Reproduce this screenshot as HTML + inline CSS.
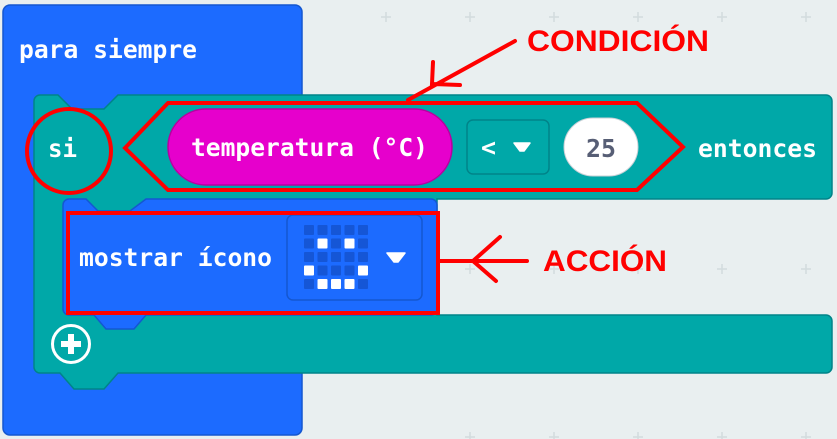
<!DOCTYPE html>
<html><head><meta charset="utf-8"><style>
html,body{margin:0;padding:0;background:#e9eff0;}
svg{display:block;}
.t{font-family:"DejaVu Sans Mono","Liberation Mono",monospace;font-weight:bold;font-size:25px;fill:#fff;}
.r{font-family:"Liberation Sans",sans-serif;font-weight:bold;font-size:30px;fill:#ff0000;}
</style></head><body>
<svg width="837" height="439" viewBox="0 0 837 439" xmlns="http://www.w3.org/2000/svg">
<rect width="837" height="439" fill="#e9eff0"/>
<g stroke="#d3dcde" stroke-width="1.5">
<path d="M386 12v10M381 17h10 M470 12v10M465 17h10 M554 12v10M549 17h10 M638 12v10M633 17h10 M722 12v10M717 17h10 M806 12v10M801 17h10"/>
<path d="M470 264v10M465 269h10 M554 264v10M549 269h10 M638 264v10M633 269h10 M722 264v10M717 269h10 M806 264v10M801 269h10"/>
<path d="M554 96v10M549 101h10 M722 96v10M717 101h10 M806 96v10M801 101h10"/>
<path d="M470 432v10M465 437h10 M554 432v10M549 437h10 M638 432v10M633 437h10 M722 432v10M717 437h10 M806 432v10M801 437h10"/>
</g>
<rect x="3" y="5" width="299" height="430" rx="7" fill="#1c6bff" stroke="#1457d0" stroke-width="1.5"/>
<text class="t" x="19" y="58" textLength="178" lengthAdjust="spacingAndGlyphs">para siempre</text>
<path d="M40 95 H58 L72 109 H104 L118 95 H826 a6 6 0 0 1 6 6 V193 a6 6 0 0 1 -6 6 H437 V315 H826 a6 6 0 0 1 6 6 V367 a6 6 0 0 1 -6 6 H118 L104 389 H74 L60 373 H40 a6 6 0 0 1 -6 -6 V101 a6 6 0 0 1 6 -6 Z" fill="#00a8a8" stroke="#008489" stroke-width="1.5"/>
<text class="t" x="48" y="157" textLength="29" lengthAdjust="spacingAndGlyphs">si</text>
<path d="M69 199 H86 L98 211 H130 L146 199 H431 a6 6 0 0 1 6 6 V309 a6 6 0 0 1 -6 6 H146 L134 329 H106 L94 315 H69 a6 6 0 0 1 -6 -6 V205 a6 6 0 0 1 6 -6 Z" fill="#1c6bff" stroke="#1457d0" stroke-width="1.5"/>
<text class="t" x="79" y="266" textLength="193" lengthAdjust="spacingAndGlyphs">mostrar ícono</text>
<rect x="287" y="215" width="135" height="85" rx="6" fill="#1c6bff" stroke="#1457d0" stroke-width="1.5"/>
<g fill="#1556d6">
<rect x="304" y="225" width="10" height="10" rx="1"/><rect x="317.5" y="225" width="10" height="10" rx="1"/><rect x="331" y="225" width="10" height="10" rx="1"/><rect x="344.5" y="225" width="10" height="10" rx="1"/><rect x="358" y="225" width="10" height="10" rx="1"/>
<rect x="304" y="238.5" width="10" height="10" rx="1"/><rect x="331" y="238.5" width="10" height="10" rx="1"/><rect x="358" y="238.5" width="10" height="10" rx="1"/>
<rect x="304" y="252" width="10" height="10" rx="1"/><rect x="317.5" y="252" width="10" height="10" rx="1"/><rect x="331" y="252" width="10" height="10" rx="1"/><rect x="344.5" y="252" width="10" height="10" rx="1"/><rect x="358" y="252" width="10" height="10" rx="1"/>
<rect x="317.5" y="265.5" width="10" height="10" rx="1"/><rect x="331" y="265.5" width="10" height="10" rx="1"/><rect x="344.5" y="265.5" width="10" height="10" rx="1"/>
<rect x="304" y="279" width="10" height="10" rx="1"/><rect x="358" y="279" width="10" height="10" rx="1"/>
</g>
<g fill="#ffffff">
<rect x="317.5" y="238.5" width="10" height="10" rx="1"/><rect x="344.5" y="238.5" width="10" height="10" rx="1"/>
<rect x="304" y="265.5" width="10" height="10" rx="1"/><rect x="358" y="265.5" width="10" height="10" rx="1"/>
<rect x="317.5" y="279" width="10" height="10" rx="1"/><rect x="331" y="279" width="10" height="10" rx="1"/><rect x="344.5" y="279" width="10" height="10" rx="1"/>
</g>
<path d="M387 253 H405 L398 262 H394 Z" fill="#fff" stroke="#fff" stroke-width="1.5" stroke-linejoin="round"/>
<circle cx="71" cy="344" r="18.5" fill="none" stroke="#fff" stroke-width="3"/>
<path d="M71 334 V354 M61 344 H81" stroke="#fff" stroke-width="6"/>
<rect x="168" y="109" width="284" height="76" rx="38" fill="#e600cc" stroke="#b8009f" stroke-width="1.5"/>
<text class="t" x="191" y="156" textLength="237" lengthAdjust="spacingAndGlyphs">temperatura (°C)</text>
<rect x="467" y="120" width="82" height="54" rx="6" fill="#00a8a8" stroke="#008489" stroke-width="1.5"/>
<text class="t" x="481" y="156">&lt;</text>
<path d="M514 143 H530 L524 151 H520 Z" fill="#fff" stroke="#fff" stroke-width="1.5" stroke-linejoin="round"/>
<rect x="564" y="118" width="74" height="58" rx="29" fill="#fff" stroke="#c8d0d6" stroke-width="1"/>
<text class="t" x="586" y="157" textLength="30" lengthAdjust="spacingAndGlyphs" style="fill:#575e75">25</text>
<text class="t" x="698" y="157" textLength="119" lengthAdjust="spacingAndGlyphs">entonces</text>
<g fill="none" stroke="#ff0000" stroke-width="4" stroke-linecap="round" stroke-linejoin="miter">
<circle cx="69" cy="151" r="42"/>
<path d="M125 148 L168 103 H637 L683 147 L637 190 H168 Z"/>
<rect x="68" y="213" width="370" height="100"/>
<path d="M438 261 H527 M500 237 L473 261 L496 281"/>
<path d="M515 41 L408 100 M433 62 L432 84 L460 85"/>
</g>
<text class="r" x="527" y="51" textLength="182" lengthAdjust="spacingAndGlyphs">CONDICIÓN</text>
<text class="r" x="543" y="271" textLength="124" lengthAdjust="spacingAndGlyphs">ACCIÓN</text>
</svg>
</body></html>
